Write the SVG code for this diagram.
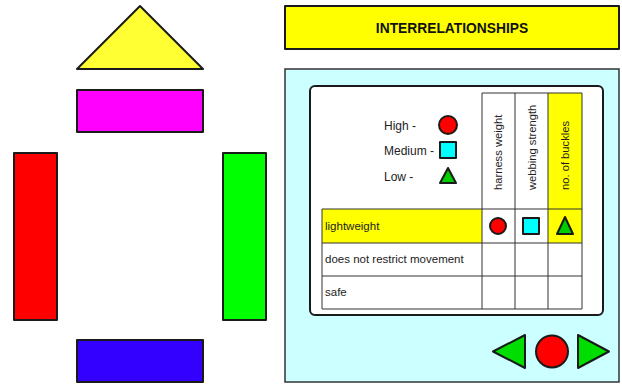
<svg xmlns="http://www.w3.org/2000/svg" width="622" height="385" viewBox="0 0 622 385">
<style>
.sh{stroke:#1a1a1a;stroke-width:2;stroke-linejoin:round}
.tl{fill:none;stroke:#333;stroke-width:1}
.t{font-family:"Liberation Sans",Arial,sans-serif;font-size:11.5px;fill:#222}
.tg{font-family:"Liberation Sans",Arial,sans-serif;font-size:12px;fill:#222}
.tr{font-family:"Liberation Sans",Arial,sans-serif;font-size:11.2px;fill:#222}
.tb{font-family:"Liberation Sans",Arial,sans-serif;font-size:13.8px;font-weight:bold;fill:#111}
</style>
<rect width="622" height="385" fill="#fff"/>
<g id="roof"><polygon class="sh" points="140,6 203,69 77,69" fill="#ffff33"/></g>
<g id="magenta"><rect class="sh" x="77" y="90" width="126" height="42" fill="#ff00ff"/></g>
<g id="red"><rect class="sh" x="14" y="153" width="43" height="167" fill="#ff0000"/></g>
<g id="green"><rect class="sh" x="223" y="153" width="43" height="167" fill="#00ff00"/></g>
<g id="blue"><rect class="sh" x="77" y="340" width="126" height="42" fill="#3300ff"/></g>
<g id="title"><rect class="sh" x="285" y="6" width="334" height="43" fill="#ffff00" stroke-width="2.5"/><text class="tb" x="452" y="32.5" text-anchor="middle">INTERRELATIONSHIPS</text></g>
<g id="panel">
<rect x="285" y="69" width="334" height="313" fill="#ccffff" stroke="#333" stroke-width="1.5"/>
<rect x="310" y="86" width="293" height="229" rx="5" fill="#fff" stroke="#1a1a1a" stroke-width="2"/>
</g>
<g id="legend">
<text class="tg" x="384" y="130">High -</text>
<circle class="sh" cx="448" cy="125" r="9" fill="#ff0000"/>
<text class="tg" x="384" y="155">Medium -</text>
<rect class="sh" x="440" y="142" width="16" height="16" fill="#00ffff"/>
<text class="tg" x="384" y="181">Low -</text>
<polygon class="sh" points="448,168 456,183 440,183" fill="#00cc00"/>
</g>
<g id="table">
<rect x="548" y="93" width="34" height="116" fill="#ffff00"/>
<rect x="322" y="209" width="160" height="34" fill="#ffff00"/>
<rect x="548" y="209" width="34" height="34" fill="#ffff00"/>
<path class="tl" d="M482,93V309M515,93V309M548,93V309M582,93V309M482,93H582M322,209H582M322,243H582M322,276H582M322,309H582M322,209V309"/>
<text class="tr" transform="translate(502,190) rotate(-90)">harness weight</text>
<text class="tr" transform="translate(536,190) rotate(-90)">webbing strength</text>
<text class="tr" transform="translate(569,190) rotate(-90)">no. of buckles</text>
<text class="t" x="325" y="230">lightweight</text>
<text class="t" x="325" y="263">does not restrict movement</text>
<text class="t" x="325" y="296">safe</text>
<circle class="sh" cx="498" cy="226" r="8" fill="#ff0000"/>
<rect class="sh" x="523" y="218" width="16" height="16" fill="#00ffff"/>
<polygon class="sh" points="565,217 573,234 557,234" fill="#00cc00"/>
</g>
<g id="nav">
<polygon class="sh" points="525,335 525,368 493,351.5" fill="#00dd00"/>
<circle class="sh" cx="552" cy="351.5" r="16" fill="#ff0000"/>
<polygon class="sh" points="578,335 578,368 609,351.5" fill="#00dd00"/>
</g>
</svg>
